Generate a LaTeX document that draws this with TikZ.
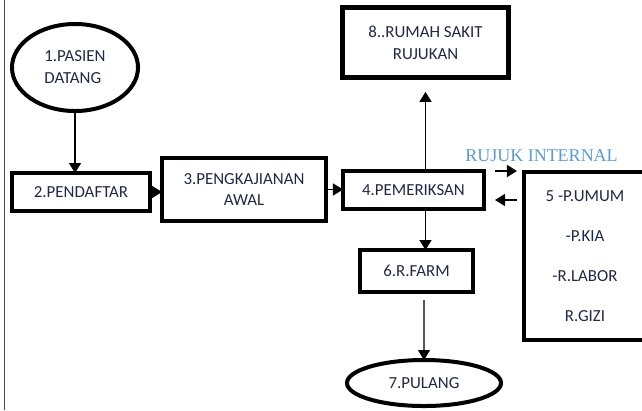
\documentclass[tikz,border=0pt]{standalone}
\usepackage{fontspec}
\setmainfont{Carlito}
\newfontfamily\rujukfont{Liberation Serif}
\usetikzlibrary{arrows.meta,positioning,shapes.geometric,calc}
\definecolor{labelnavy}{RGB}{32,40,68}
\definecolor{rujukblue}{RGB}{91,155,213}

\begin{document}
\begin{tikzpicture}[x=0.025cm, y=-0.025cm,
        every node/.style={font=\fontsize{12}{15.6}\selectfont, text=labelnavy},
        box/.style={rectangle,draw,line width=0.1cm,inner sep=0pt,outer sep=0pt,align=center},
        oval/.style={ellipse,draw,line width=0.1cm,inner sep=0pt,outer sep=0pt},
        arrow/.style={-{Triangle[length=2.5mm,width=3mm]},line width=1pt}]
        \useasboundingbox (0,0) rectangle (642,410);
        \draw[line width=0.6pt,black!70] (4,0) -- (4,410);
        \node[oval,minimum width=3.15cm,minimum height=2.175cm,align=left] (pasien) at (75,67.5) {1.PASIEN\\DATANG};
        \node[box,minimum width=3.45cm,minimum height=0.95cm] (daftar) at (81,192) {2.PENDAFTAR};
        \node[box,minimum width=4.1cm,minimum height=1.575cm] (kaji) at (244,189.5) {3.PENGKAJIANAN\\AWAL};
        \node[box,minimum width=3.525cm,minimum height=0.95cm] (periksa) at (413.5,190) {4.PEMERIKSAN};
        \node[box,line width=0.125cm,minimum width=4.15cm,minimum height=1.75cm] (rujukan) at (425.5,42.5) {8..RUMAH SAKIT\\RUJUKAN};
        \node[box,minimum width=2.825cm,minimum height=1.05cm] (farm) at (416.5,271) {6.R.FARM};
        \node[box,line width=0.11cm,minimum width=3.05cm,minimum height=4.2cm,
          font=\fontsize{12}{28.3}\selectfont] (internal) at (585,256) {5 -P.UMUM\\-P.KIA\\-R.LABOR\\R.GIZI};
        \node[oval,minimum width=3.85cm,minimum height=1.15cm] (pulang) at (424,383) {7.PULANG};
        \node[text=rujukblue,font=\rujukfont\fontsize{12.8}{14}\selectfont,inner sep=0pt] (rujuklabel) at (541.5,156) {RUJUK INTERNAL};
        \draw[arrow] (pasien.south) -- (pasien.south |- daftar.north);
        \draw[arrow] (daftar.east) -- (daftar.east -| kaji.west);
        \draw[arrow] (kaji.east) -- (kaji.east -| periksa.west);
        \draw[arrow,shorten >=0.36cm] (rujukan.south |- periksa.north) -- (rujukan.south);
        \draw[arrow] (periksa.south -| rujukan.south) -- (farm.north -| rujukan.south);
        \draw[arrow,shorten <=0.2cm] ($(farm.south)+(7.5,0)$) -- (pulang.north);
        \draw[arrow,shorten <=0.275cm,shorten >=0.175cm] (periksa.north east) -- (periksa.north east -| internal.west);
        \draw[arrow] ($(periksa.east -| internal.west)+(-7,10)$) -- ($(periksa.east)+(11,10)$);
      \end{tikzpicture}
\end{document}
